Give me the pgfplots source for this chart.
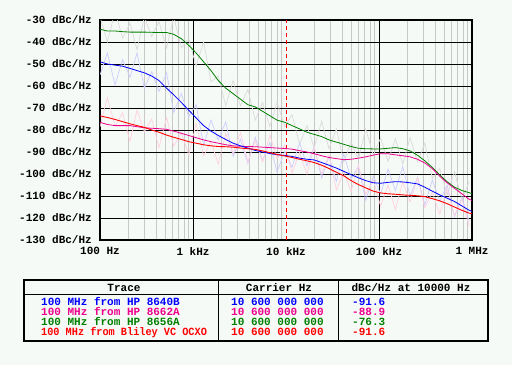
\documentclass[border=0pt]{standalone}
\usepackage{fontspec}
\setmainfont{Liberation Mono}
\usepackage{pgfplots}
\pgfplotsset{compat=1.18}
\definecolor{bgc}{RGB}{246,250,246}
\definecolor{dgreen}{RGB}{0,128,0}
\definecolor{rawgrey}{RGB}{218,218,218}
\definecolor{rawblue}{RGB}{205,205,255}
\definecolor{rawpink}{RGB}{255,208,225}
\newcommand{\tf}{\bfseries\fontsize{11}{11}\selectfont}
\begin{document}
\begin{tikzpicture}[x=1pt,y=1pt]
\fill[bgc] (0,0) rectangle (512,365);
\useasboundingbox (0,0) rectangle (512,365);
\begin{axis}[
  at={(100pt,125pt)}, anchor=south west,
  scale only axis, width=372pt, height=220pt,
  xmode=log, xmin=100, xmax=1000000, ymin=-130, ymax=-30,
  axis background/.style={fill=bgc},
  axis line style={line width=2pt},
  xtick={100,1000,10000,100000,1000000},
  xticklabels={100 Hz,1 kHz,10 kHz,100 kHz,1 MHz},
  ytick={-130,-120,-110,-100,-90,-80,-70,-60,-50,-40,-30},
  yticklabels={-130 dBc/Hz,-120 dBc/Hz,-110 dBc/Hz,-100 dBc/Hz,-90 dBc/Hz,-80 dBc/Hz,-70 dBc/Hz,-60 dBc/Hz,-50 dBc/Hz,-40 dBc/Hz,-30 dBc/Hz},
  minor xtick={200,300,400,500,600,700,800,900,2000,3000,4000,5000,6000,7000,8000,9000,20000,30000,40000,50000,60000,70000,80000,90000,200000,300000,400000,500000,600000,700000,800000,900000},
  major tick length=0pt, minor tick length=0pt,
  xminorgrids=true, ymajorgrids=true, xmajorgrids=false,
  minor grid style={rawgrey!80!gray, line width=0.8pt},
  major grid style={black, line width=0.8pt},
  extra x ticks={1000,100000},
  extra x tick labels={},
  extra x tick style={grid=major, major grid style={black, line width=0.8pt}},
  tick label style={font=\tf, text=black, inner sep=0pt},
  yticklabel style={anchor=east},
  yticklabel shift=8pt,
  xticklabel shift=7pt,
]
% raw traces
\addplot[rawgrey, line width=0.7pt] coordinates {
(100,-28.5)(120,-40)(145,-26)(175,-38.3)(210,-31.5)(250,-43.5)(300,-28.5)(360,-37.6)(430,-30.7)(520,-42.7)
(620,-28.5)(750,-42.5)(900,-38.5)(1080,-51)(1300,-40)(1560,-58)(1870,-55.5)(2250,-69)(2700,-57.5)(3240,-69)
(3890,-61.5)(4670,-75.5)(5600,-67.5)(6700,-78.5)(8000,-67.5)(9700,-78.5)(11600,-73)(14000,-86.5)(16800,-78)(20100,-88)
(24200,-76)(29000,-88.5)(34800,-79.5)(41800,-94.5)(50100,-85.5)(60000,-93.3)(72000,-79.5)(87000,-91.6)(104000,-83.6)(125000,-94.3)
(150000,-84)(180000,-95.5)(216000,-83.5)(260000,-94.5)(311000,-86)(374000,-102)(450000,-97.5)(540000,-109.5)(648000,-99)(778000,-111.5)(933000,-103.5)};
\addplot[rawblue, line width=0.7pt] coordinates {
(100,-55)(120,-45)(145,-59.5)(175,-48)(210,-56)(250,-45)(300,-61)(360,-53.5)(430,-62.5)(520,-54)
(620,-72)(750,-63.5)(900,-74)(1080,-68.5)(1300,-87)(1560,-75.5)(1870,-84.5)(2250,-76.3)(2700,-92)(3240,-84.2)
(3890,-95.2)(4670,-83.3)(5600,-94)(6700,-85.7)(8000,-99.2)(9700,-89.6)(11600,-97)(14000,-85.8)(16800,-96.3)(20100,-87.6)
(24200,-101.8)(29000,-92)(34800,-103.3)(41800,-90.8)(50100,-102.3)(60000,-96.7)(72000,-112)(87000,-101)(104000,-109.2)(125000,-97.8)
(150000,-107.5)(180000,-96.6)(216000,-110)(260000,-101.5)(311000,-114)(374000,-102.8)(450000,-112.5)(540000,-105)(648000,-119.5)(778000,-110.5)(933000,-121.5)};
\addplot[rawpink, line width=0.7pt] coordinates {
(100,-78.6)(120,-65.3)(145,-78.2)(175,-72.2)(210,-85.2)(250,-71)(300,-80.8)(360,-75)(430,-88)(520,-74.3)
(620,-87.3)(750,-81.3)(900,-91.3)(1080,-77)(1300,-91.7)(1560,-85.2)(1870,-95.5)(2250,-81.6)(2700,-90.8)(3240,-81.2)
(3890,-94.5)(4670,-84.8)(5600,-94.5)(6700,-82.3)(8000,-93.1)(9700,-86.8)(11600,-99.5)(14000,-90.3)(16800,-100)(20100,-87.8)
(24200,-100)(29000,-91.5)(34800,-107.2)(41800,-98.8)(50100,-108)(60000,-95.8)(72000,-109.3)(87000,-102.8)(104000,-114.6)(125000,-105)
(150000,-116.2)(180000,-103.5)(216000,-112.7)(260000,-101.9)(311000,-115.3)(374000,-108.2)(450000,-118.2)(540000,-106.5)(648000,-119)(778000,-111.5)(933000,-123.8)};
% marker
\addplot[red, line width=0.8pt, dash pattern=on 4pt off 3pt] coordinates {(10000,-130)(10000,-30)};
% smoothed traces
\addplot[dgreen, line width=0.8pt] coordinates {
(100,-34.2)(120,-35)(145,-35)(175,-35.3)(210,-35.5)(250,-35.5)(300,-35.5)(360,-35.6)(430,-35.7)(520,-35.7)
(620,-36.5)(750,-38.5)(900,-41.5)(1080,-45)(1300,-49)(1560,-53)(1870,-57.5)(2250,-61)(2700,-63.5)(3240,-66)
(3890,-68.5)(4670,-69.5)(5600,-71.5)(6700,-73.5)(8000,-75.5)(9700,-76.5)(11600,-78)(14000,-79.5)(16800,-81)(20100,-82)
(24200,-83)(29000,-84.5)(34800,-85.5)(41800,-86.5)(50100,-87.5)(60000,-88.3)(72000,-88.5)(87000,-88.6)(104000,-88.6)(125000,-88.3)
(150000,-88)(180000,-88.5)(216000,-89.5)(260000,-91.5)(311000,-94)(374000,-97)(450000,-100.5)(540000,-103.5)(648000,-106)(778000,-107.5)(933000,-108.5)(1000000,-109)};
\addplot[magenta, line width=0.8pt] coordinates {
(100,-76.5)(120,-77.5)(145,-78)(175,-78)(210,-78)(250,-78.5)(300,-79)(360,-79.2)(430,-79.4)(520,-79.7)
(620,-80.5)(750,-81.5)(900,-82.5)(1080,-83.5)(1300,-84.5)(1560,-85.3)(1870,-86)(2250,-86.7)(2700,-87.2)(3240,-87.4)
(3890,-87.5)(4670,-87.6)(5600,-87.8)(6700,-88)(8000,-88.2)(9700,-88.4)(11600,-88.7)(14000,-89.4)(16800,-90)(20100,-90.8)
(24200,-91.7)(29000,-92.5)(34800,-93)(41800,-93.5)(50100,-93.3)(60000,-92.8)(72000,-92.2)(87000,-91.4)(104000,-90.8)(125000,-90.8)
(150000,-91.3)(180000,-91.7)(216000,-92.2)(260000,-93.3)(311000,-95)(374000,-97.5)(450000,-101)(540000,-104)(648000,-106.5)(778000,-109)(933000,-111.5)(1000000,-112)};
\addplot[blue, line width=0.8pt] coordinates {
(100,-49)(120,-50)(145,-50.5)(175,-51)(210,-52)(250,-53)(300,-54)(360,-55.5)(430,-57.5)(520,-61)
(620,-64)(750,-67.5)(900,-71)(1080,-74.5)(1300,-78)(1560,-80.5)(1870,-82.5)(2250,-84.3)(2700,-86)(3240,-87.2)
(3890,-88.2)(4670,-89.3)(5600,-90)(6700,-90.7)(8000,-91.2)(9700,-91.6)(11600,-92)(14000,-92.8)(16800,-93.3)(20100,-93.6)
(24200,-94.8)(29000,-96)(34800,-97.3)(41800,-98.8)(50100,-100.3)(60000,-101.7)(72000,-103)(87000,-104)(104000,-104.2)(125000,-103.8)
(150000,-103.5)(180000,-103.6)(216000,-104)(260000,-104.5)(311000,-106)(374000,-107.8)(450000,-109.5)(540000,-111)(648000,-112.5)(778000,-114.5)(933000,-116.5)(1000000,-117)};
\addplot[red, line width=0.9pt] coordinates {
(100,-73.6)(120,-74.3)(145,-75.2)(175,-76.2)(210,-77.2)(250,-78)(300,-78.8)(360,-80)(430,-81)(520,-82.3)
(620,-83.3)(750,-84.3)(900,-85.3)(1080,-86)(1300,-86.7)(1560,-87.2)(1870,-87.5)(2250,-87.6)(2700,-87.8)(3240,-88.2)
(3890,-88.5)(4670,-88.8)(5600,-89.5)(6700,-90.3)(8000,-91.1)(9700,-91.8)(11600,-92.5)(14000,-93.3)(16800,-94)(20100,-94.8)
(24200,-96)(29000,-97.5)(34800,-99.2)(41800,-100.8)(50100,-103)(60000,-104.8)(72000,-106.3)(87000,-107.8)(104000,-108.6)(125000,-109)
(150000,-109.2)(180000,-109.5)(216000,-109.7)(260000,-109.9)(311000,-110.3)(374000,-111.2)(450000,-112.2)(540000,-113.5)(648000,-115)(778000,-116.5)(933000,-117.8)(1000000,-118)};
\end{axis}
% table
\draw[line width=2pt] (24,24) rectangle (488,85);
\draw[line width=0.8pt] (24,70.7) -- (488,70.7);
\draw[line width=0.8pt] (218.7,24) -- (218.7,85);
\draw[line width=0.8pt] (338.3,24) -- (338.3,85);
\node[anchor=base, inner sep=0pt, font=\tf] at (124,74) {Trace};
\node[anchor=base, inner sep=0pt, font=\tf] at (279,74) {Carrier Hz};
\node[anchor=base, inner sep=0pt, font=\tf] at (411,74) {dBc/Hz at 10000 Hz};
\node[anchor=base west, inner sep=0pt, font=\tf, text=blue] at (41,59.3) {100 MHz from HP 8640B};
\node[anchor=base west, inner sep=0pt, font=\tf, text=magenta] at (41,49.3) {100 MHz from HP 8662A};
\node[anchor=base west, inner sep=0pt, font=\tf, text=dgreen] at (41,39.3) {100 MHz from HP 8656A};
\node[anchor=base west, inner sep=0pt, font=\tf, text=red, xscale=0.93] at (41,29.3) {100 MHz from Bliley VC OCXO};
\node[anchor=base west, inner sep=0pt, font=\tf, text=blue] at (231,59.3) {10 600 000 000};
\node[anchor=base west, inner sep=0pt, font=\tf, text=magenta] at (231,49.3) {10 600 000 000};
\node[anchor=base west, inner sep=0pt, font=\tf, text=dgreen] at (231,39.3) {10 600 000 000};
\node[anchor=base west, inner sep=0pt, font=\tf, text=red] at (231,29.3) {10 600 000 000};
\node[anchor=base west, inner sep=0pt, font=\tf, text=blue] at (352,59.3) {-91.6};
\node[anchor=base west, inner sep=0pt, font=\tf, text=magenta] at (352,49.3) {-88.9};
\node[anchor=base west, inner sep=0pt, font=\tf, text=dgreen] at (352,39.3) {-76.3};
\node[anchor=base west, inner sep=0pt, font=\tf, text=red] at (352,29.3) {-91.6};
\end{tikzpicture}
\end{document}
